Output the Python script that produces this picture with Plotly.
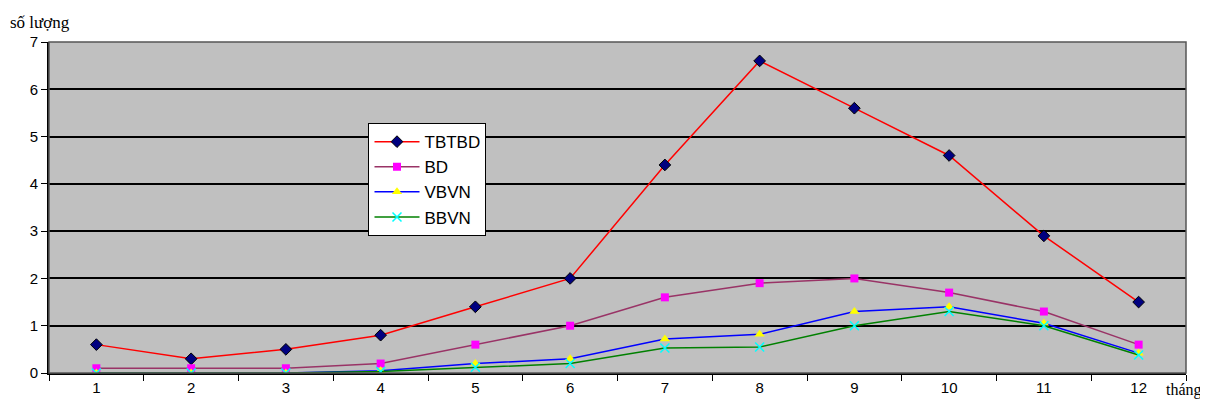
import plotly.graph_objects as go

months = ["1", "2", "3", "4", "5", "6", "7", "8", "9", "10", "11", "12"]
tbtbd = [0.6, 0.3, 0.5, 0.8, 1.4, 2.0, 4.4, 6.6, 5.6, 4.6, 2.9, 1.5]
bd = [0.1, 0.1, 0.1, 0.2, 0.6, 1.0, 1.6, 1.9, 2.0, 1.7, 1.3, 0.6]
vbvn = [0.0, 0.0, 0.0, 0.05, 0.2, 0.3, 0.72, 0.82, 1.3, 1.4, 1.05, 0.42]
bbvn = [0.0, 0.0, 0.0, 0.03, 0.12, 0.2, 0.53, 0.55, 1.0, 1.3, 1.0, 0.38]

fig = go.Figure()
fig.add_trace(go.Scatter(x=months, y=tbtbd, name="TBTBD", mode="lines+markers",
                         line=dict(color="#FF0000", width=1.5),
                         marker=dict(symbol="diamond", color="#000080", size=9,
                                     line=dict(color="#000000", width=1))))
fig.add_trace(go.Scatter(x=months, y=bd, name="BD", mode="lines+markers",
                         line=dict(color="#993366", width=1.5),
                         marker=dict(symbol="square", color="#FF00FF", size=8,
                                     line=dict(color="#000000", width=0))))
fig.add_trace(go.Scatter(x=months, y=vbvn, name="VBVN", mode="lines+markers",
                         line=dict(color="#0000FF", width=1.5),
                         marker=dict(symbol="triangle-up", color="#FFFF00", size=9,
                                     line=dict(color="#000000", width=0))))
fig.add_trace(go.Scatter(x=months, y=bbvn, name="BBVN", mode="lines+markers",
                         line=dict(color="#008000", width=1.5),
                         marker=dict(symbol="x-thin-open", color="#00FFFF", size=9,
                                     line=dict(color="#00FFFF", width=1.5))))

fig.update_layout(
    width=1200, height=395,
    margin=dict(l=41, r=22, t=34, b=30, autoexpand=False),
    paper_bgcolor="white",
    plot_bgcolor="#C0C0C0",
    font=dict(family="Liberation Sans, Arial, sans-serif", size=15, color="black"),
    showlegend=True,
    legend=dict(x=0.281, y=0.755, xanchor="left", yanchor="top",
                bgcolor="white", bordercolor="black", borderwidth=1,
                font=dict(family="Liberation Sans, Arial, sans-serif", size=17),
                tracegroupgap=0, itemwidth=45),
    annotations=[
        dict(text="số lượng", xref="paper", yref="paper", x=-0.036, y=1.0,
             xanchor="left", yanchor="bottom", yshift=8, showarrow=False,
             font=dict(family="Liberation Serif, Times New Roman, serif", size=17)),
        dict(text="tháng", xref="paper", yref="paper", x=1.0, y=0.0,
             xanchor="center", yanchor="middle", xshift=-2, yshift=-17, showarrow=False,
             font=dict(family="Liberation Serif, Times New Roman, serif", size=16)),
    ],
)
fig.update_xaxes(type="category", tickson="boundaries", ticks="outside", ticklen=6,
                 tickcolor="black", showline=True, linecolor="black", linewidth=2,
                 mirror=False, showgrid=False, tickfont=dict(size=15),
                 range=[-0.5, 11.5])
fig.update_yaxes(range=[0, 7], dtick=1, ticks="outside", ticklen=6, tickcolor="black",
                 showline=True, linecolor="black", linewidth=2, showgrid=True,
                 gridcolor="black", gridwidth=1.5, zeroline=False,
                 tickfont=dict(size=15))
fig.add_shape(type="rect", xref="paper", yref="paper", x0=0, y0=0, x1=1, y1=1,
              line=dict(color="#555555", width=1.5))

fig.write_html("out.html")
